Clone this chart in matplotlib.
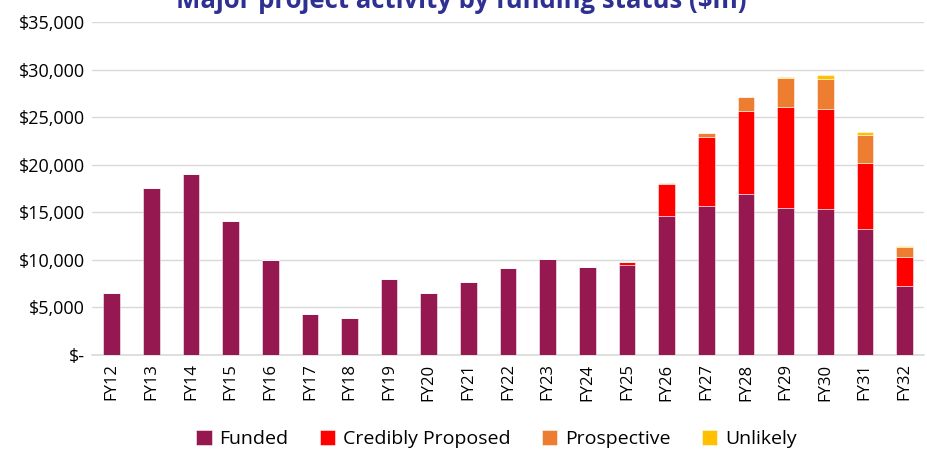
"""Major project activity by funding status."""
import matplotlib.pyplot as plt
import matplotlib.ticker as mticker
import numpy as np

years = ["FY12", "FY13", "FY14", "FY15", "FY16", "FY17", "FY18", "FY19", "FY20",
         "FY21", "FY22", "FY23", "FY24", "FY25", "FY26", "FY27", "FY28", "FY29",
         "FY30", "FY31", "FY32"]

funded = [6500, 17600, 19000, 14100, 10000, 4300, 3900, 8000, 6500,
          7700, 9200, 10100, 9300, 9500, 14600, 15700, 16900, 15500,
          15300, 13200, 7300]
credibly_proposed = [0, 0, 0, 0, 0, 0, 0, 0, 0,
                     0, 0, 0, 0, 300, 3350, 7200, 8700, 10600,
                     10600, 7000, 3050]
prospective = [0, 0, 0, 0, 0, 0, 0, 0, 0,
               0, 0, 0, 0, 0, 150, 450, 1500, 3000,
               3150, 2900, 1050]
unlikely = [0, 0, 0, 0, 0, 0, 0, 0, 0,
            0, 0, 0, 0, 0, 30, 0, 0, 150,
            420, 300, 40]

series = [
    ("Funded", funded, "#961850"),
    ("Credibly Proposed", credibly_proposed, "#FF0000"),
    ("Prospective", prospective, "#ED7D31"),
    ("Unlikely", unlikely, "#FFC000"),
]

plt.rcParams['font.family'] = ['Open Sans', 'DejaVu Sans']

fig = plt.figure(figsize=(9.28, 4.5), dpi=100)
ax = fig.add_axes([0.099, 0.211, 0.897, 0.74])

ind = np.arange(len(years))
bottom = np.zeros(len(years))
for name, vals, color in series:
    vals = np.array(vals, dtype=float)
    ax.bar(ind, vals, width=0.42, bottom=bottom, color=color, label=name,
           edgecolor=(1, 1, 1, 0.6), linewidth=0.6, zorder=3)
    bottom += vals

ax.set_xlim(-0.5, len(years) - 0.5)
ax.set_ylim(0, 35000)
ax.set_yticks(np.arange(0, 35001, 5000))


def dollars(v, pos):
    if v == 0:
        return "$-"
    return "${:,.0f}".format(v)


ax.yaxis.set_major_formatter(mticker.FuncFormatter(dollars))
ax.set_xticks(ind)
ax.set_xticklabels(years, rotation=90, fontsize=12)
ax.tick_params(axis='y', labelsize=13, length=0, pad=5)
ax.tick_params(axis='x', length=0, pad=6)
ax.grid(axis='y', color='#D9D9D9', linewidth=1, zorder=0)
for s in ["top", "right", "left"]:
    ax.spines[s].set_visible(False)
ax.spines["bottom"].set_color('#D9D9D9')
ax.spines["bottom"].set_linewidth(1.2)

# title sits partly above the top edge, as in the source image
fig.text(0.497, 1.0, "Major project activity by funding status ($m)",
         ha='center', va='center', fontsize=18.5, fontweight='bold',
         color='#2E3192')

fig.legend(loc='center', bbox_to_anchor=(0.535, 0.024), ncol=4,
           frameon=False, fontsize=14, handlelength=0.8, handleheight=0.8,
           columnspacing=1.6, handletextpad=0.4)

fig.savefig("out.png", dpi=100)
